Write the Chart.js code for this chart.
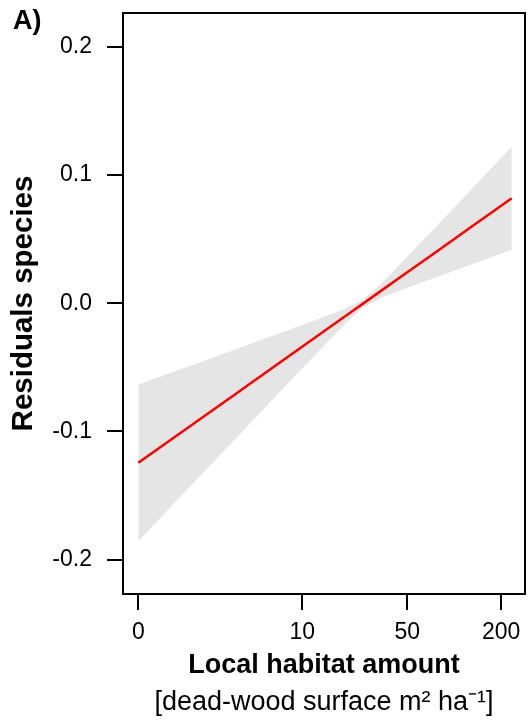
<!DOCTYPE html>
<html>
<head>
<meta charset="utf-8">
<script src="https://cdn.jsdelivr.net/npm/chart.js@4.4.1/dist/chart.umd.min.js"></script>
<style>
  body { margin: 0; background: #fff; }
  canvas { display: block; }
</style>
</head>
<body>
<canvas id="myChart" width="529" height="721"></canvas>
<script>
const habitat = [0, 1, 3, 6, 12, 20, 26, 35, 50, 80, 130, 234];
// fitted residuals (red line)
const fitted = [-0.1245, -0.0983, -0.0721, -0.0509, -0.0275, -0.0094, 0.0001, 0.0110, 0.0241, 0.0416, 0.0598, 0.0819];
// confidence band (grey)
const upperCI = [-0.0633, -0.0501, -0.0366, -0.0257, -0.0136, -0.0038, 0.0031, 0.0170, 0.0362, 0.0621, 0.0891, 0.1220];
const lowerCI = [-0.1857, -0.1465, -0.1076, -0.0761, -0.0414, -0.0150, -0.0029, 0.0050, 0.0120, 0.0211, 0.0305, 0.0418];

const xTicks = [0, 10, 50, 200];
const yTicks = [-0.2, -0.1, 0, 0.1, 0.2];

// x axis is log(x + 1)
let toPoints = (ys) => ys.map((y, i) => ({ x: Math.log(habitat[i] + 1), y: y }));

Chart.defaults.font.family = '"Liberation Sans", Arial, sans-serif';
Chart.defaults.color = '#000';

// box around the plot + panel letter
const boxPlugin = {
  id: 'box',
  afterDraw(chart) {
    const a = chart.chartArea;
    const ctx = chart.ctx;
    ctx.save();
    ctx.strokeStyle = '#000';
    ctx.lineWidth = 2;
    ctx.strokeRect(a.left, a.top, a.right - a.left, a.bottom - a.top);
    ctx.fillStyle = '#000';
    ctx.font = 'bold 27px "Liberation Sans", Arial, sans-serif';
    ctx.textBaseline = 'alphabetic';
    ctx.fillText('A)', 13, 29);
    ctx.restore();
  }
};

const tickGrid = { drawOnChartArea: false, drawTicks: true, tickLength: 16, color: '#000', lineWidth: 2 };

const config = {
  type: 'line',
  data: {
    datasets: [
      {
        label: 'upper',
        data: toPoints(upperCI),
        borderWidth: 0,
        pointRadius: 0,
        backgroundColor: '#e5e5e5',
        fill: '+1',
        order: 2
      },
      {
        label: 'lower',
        data: toPoints(lowerCI),
        borderWidth: 0,
        pointRadius: 0,
        fill: false,
        order: 2
      },
      {
        label: 'fit',
        data: toPoints(fitted),
        borderColor: '#ff0000',
        borderWidth: 2.5,
        pointRadius: 0,
        fill: false,
        order: 0
      }
    ]
  },
  options: {
    responsive: false,
    animation: false,
    devicePixelRatio: 1,
    layout: { padding: { top: 13, right: 4, left: 0, bottom: 0 } },
    plugins: { legend: { display: false }, tooltip: { enabled: false } },
    elements: { line: { tension: 0 } },
    scales: {
      x: {
        type: 'linear',
        min: -0.224,
        max: 5.653,
        afterBuildTicks: (scale) => { scale.ticks = xTicks.map(v => ({ value: Math.log(v + 1) })); },
        afterFit: (scale) => { scale.height = 92.3; scale.paddingLeft = 0; scale.paddingRight = 0; },
        grid: tickGrid,
        border: { display: false },
        ticks: { padding: 9, font: { size: 23 }, maxRotation: 0, autoSkip: false, callback: (v, i) => xTicks[i] },
        title: { display: true, text: 'Local habitat amount', font: { size: 27, weight: 'bold' }, padding: { top: 0, bottom: 4.6 } }
      },
      xSub: {
        type: 'linear',
        axis: 'x',
        position: 'bottom',
        weight: 1,
        afterFit: (scale) => { scale.height = 34.7; scale.paddingLeft = 0; scale.paddingRight = 0; },
        grid: { display: false },
        border: { display: false },
        ticks: { display: false },
        title: { display: true, text: '[dead-wood surface m² ha⁻¹]', font: { size: 27 }, padding: { top: 0, bottom: 2.3 } }
      },
      y: {
        type: 'linear',
        min: -0.2268,
        max: 0.2264,
        afterBuildTicks: (scale) => { scale.ticks = yTicks.map(v => ({ value: v })); },
        afterFit: (scale) => { scale.width = 123; scale.paddingTop = 0; scale.paddingBottom = 0; },
        grid: tickGrid,
        border: { display: false },
        ticks: { padding: 15, font: { size: 23 }, callback: (v) => v.toFixed(1) },
        title: { display: true, text: 'Residuals species', font: { size: 29.5, weight: 'bold' }, padding: { top: 5.8, bottom: 0 } }
      }
    }
  },
  plugins: [boxPlugin]
};

const chart = new Chart(document.getElementById('myChart'), config);
</script>
</body>
</html>
